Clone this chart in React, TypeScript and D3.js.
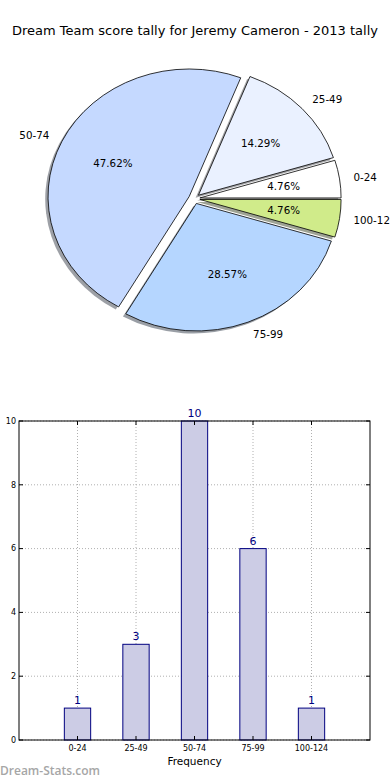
import { useEffect, useRef } from 'react';
import * as d3 from 'd3';

const categories = ['0-24', '25-49', '50-74', '75-99', '100-124'];
const counts = [1, 3, 10, 6, 1];
const sliceColors = ['#ffffff', '#eaf1ff', '#c5d9ff', '#b5d6ff', '#d0eb8a'];
const yTicks = [0, 2, 4, 6, 8, 10];

const title = 'Dream Team score tally for Jeremy Cameron - 2013 tally';

const App = () => {
    const svgRef = useRef<SVGSVGElement>(null);

    useEffect(() => {
        if (!svgRef.current) return;
        const svg = d3.select(svgRef.current);
        svg.selectAll('*').remove();

        const font = 'DejaVu Sans, sans-serif';

        svg.append('text')
            .attr('x', 195)
            .attr('y', 35)
            .attr('text-anchor', 'middle')
            .attr('font-family', font)
            .attr('font-size', 13)
            .attr('fill', '#000')
            .text(title);

        // ---- pie (elliptical, like matplotlib without axis equal) ----
        const cx = 194.3, cy = 198.7, rx = 141.2, ry = 127.5;
        const explode = 0.04;
        const total = d3.sum(counts);

        const pie = d3.pie<number>()
            .sort(null)
            .startAngle(Math.PI / 2)
            .endAngle(Math.PI / 2 - 2 * Math.PI);
        const arcs = pie(counts);
        const arc = d3.arc<d3.PieArcDatum<number>>().innerRadius(0).outerRadius(1);

        const pieG = svg.append('g');
        const shadowG = pieG.append('g');
        const wedgeG = pieG.append('g');

        arcs.forEach((a, i) => {
            const mid = (a.startAngle + a.endAngle) / 2;
            const ux = Math.sin(mid), uy = -Math.cos(mid);
            const ox = cx + explode * rx * ux;
            const oy = cy + explode * ry * uy;
            const c = d3.rgb(sliceColors[i]);
            const shadow = d3.rgb(c.r * 0.3, c.g * 0.3, c.b * 0.3);

            shadowG.append('path')
                .attr('d', arc(a))
                .attr('transform', `translate(${ox - 0.02 * rx},${oy + 0.02 * ry}) scale(${rx},${ry})`)
                .attr('fill', shadow.toString())
                .attr('fill-opacity', 0.5);

            wedgeG.append('path')
                .attr('d', arc(a))
                .attr('transform', `translate(${ox},${oy}) scale(${rx},${ry})`)
                .attr('fill', sliceColors[i])
                .attr('stroke', '#000')
                .attr('stroke-width', 0.8)
                .attr('vector-effect', 'non-scaling-stroke');

            const lx = ox + 1.1 * rx * ux;
            const ly = oy + 1.1 * ry * uy;
            pieG.append('text')
                .attr('x', lx)
                .attr('y', ly)
                .attr('dy', '0.35em')
                .attr('text-anchor', ux > 0 ? 'start' : 'end')
                .attr('font-family', font)
                .attr('font-size', 10.3)
                .text(categories[i]);

            pieG.append('text')
                .attr('x', ox + 0.6 * rx * ux)
                .attr('y', oy + 0.6 * ry * uy)
                .attr('dy', '0.35em')
                .attr('text-anchor', 'middle')
                .attr('font-family', font)
                .attr('font-size', 10.3)
                .text(`${(counts[i] / total * 100).toFixed(2)}%`);
        });

        // ---- bar chart ----
        const left = 19, right = 370, top = 421, bottom = 740;
        const x = d3.scaleLinear().domain([-1, 5]).range([left, right]);
        const y = d3.scaleLinear().domain([0, 10]).range([bottom, top]);
        const barW = x(0.45) - x(0);

        const g = svg.append('g');

        // grid
        g.selectAll('.vgrid')
            .data(categories)
            .enter()
            .append('line')
            .attr('x1', (_, i) => x(i))
            .attr('x2', (_, i) => x(i))
            .attr('y1', top)
            .attr('y2', bottom)
            .attr('stroke', '#b0b0b0')
            .attr('stroke-dasharray', '1,2');
        g.selectAll('.hgrid')
            .data(yTicks)
            .enter()
            .append('line')
            .attr('x1', left)
            .attr('x2', right)
            .attr('y1', d => y(d))
            .attr('y2', d => y(d))
            .attr('stroke', '#b0b0b0')
            .attr('stroke-dasharray', '1,2');

        // bars
        g.selectAll('.bar')
            .data(counts)
            .enter()
            .append('rect')
            .attr('x', (_, i) => x(i) - barW / 2)
            .attr('y', d => y(d))
            .attr('width', barW)
            .attr('height', d => bottom - y(d))
            .attr('fill', '#ccccе5'.replace('е', 'e'))
            .attr('stroke', '#000080')
            .attr('stroke-width', 1);

        g.selectAll('.val')
            .data(counts)
            .enter()
            .append('text')
            .attr('x', (_, i) => x(i))
            .attr('y', d => y(d) - 4)
            .attr('text-anchor', 'middle')
            .attr('font-family', font)
            .attr('font-size', 11)
            .attr('fill', '#000080')
            .text(d => d);

        // frame
        g.append('rect')
            .attr('x', left)
            .attr('y', top)
            .attr('width', right - left)
            .attr('height', bottom - top)
            .attr('fill', 'none')
            .attr('stroke', '#000')
            .attr('stroke-width', 1);

        // ticks (inward, all sides)
        yTicks.forEach(t => {
            g.append('line').attr('x1', left).attr('x2', left + 4).attr('y1', y(t)).attr('y2', y(t)).attr('stroke', '#000');
            g.append('line').attr('x1', right - 4).attr('x2', right).attr('y1', y(t)).attr('y2', y(t)).attr('stroke', '#000');
            g.append('text')
                .attr('x', left - 3)
                .attr('y', y(t))
                .attr('dy', '0.35em')
                .attr('text-anchor', 'end')
                .attr('font-family', font)
                .attr('font-size', 8)
                .text(t);
        });
        categories.forEach((c, i) => {
            g.append('line').attr('x1', x(i)).attr('x2', x(i)).attr('y1', bottom).attr('y2', bottom - 4).attr('stroke', '#000');
            g.append('line').attr('x1', x(i)).attr('x2', x(i)).attr('y1', top).attr('y2', top + 4).attr('stroke', '#000');
            g.append('text')
                .attr('x', x(i))
                .attr('y', bottom + 8)
                .attr('dy', '0.35em')
                .attr('text-anchor', 'middle')
                .attr('font-family', font)
                .attr('font-size', 8)
                .text(c);
        });

        g.append('text')
            .attr('x', (left + right) / 2)
            .attr('y', 765)
            .attr('text-anchor', 'middle')
            .attr('font-family', font)
            .attr('font-size', 10.5)
            .text('Frequency');

        // y label sits mostly past the left edge, as in the cropped original
        g.append('text')
            .attr('transform', `translate(-1,${(top + bottom) / 2}) rotate(-90)`)
            .attr('text-anchor', 'middle')
            .attr('font-family', font)
            .attr('font-size', 10.5)
            .text('No. of Games');

        svg.append('text')
            .attr('x', 0)
            .attr('y', 775)
            .attr('font-family', 'Open Sans, sans-serif')
            .attr('font-weight', 600)
            .attr('font-size', 12)
            .attr('fill', '#a6a6a6')
            .text('Dream-Stats.com');
    }, []);

    return (
        <svg
            ref={svgRef}
            width={390}
            height={780}
            style={{ position: 'absolute', left: 0, top: 0, background: '#fff' }}
        />
    );
};

export default App;
